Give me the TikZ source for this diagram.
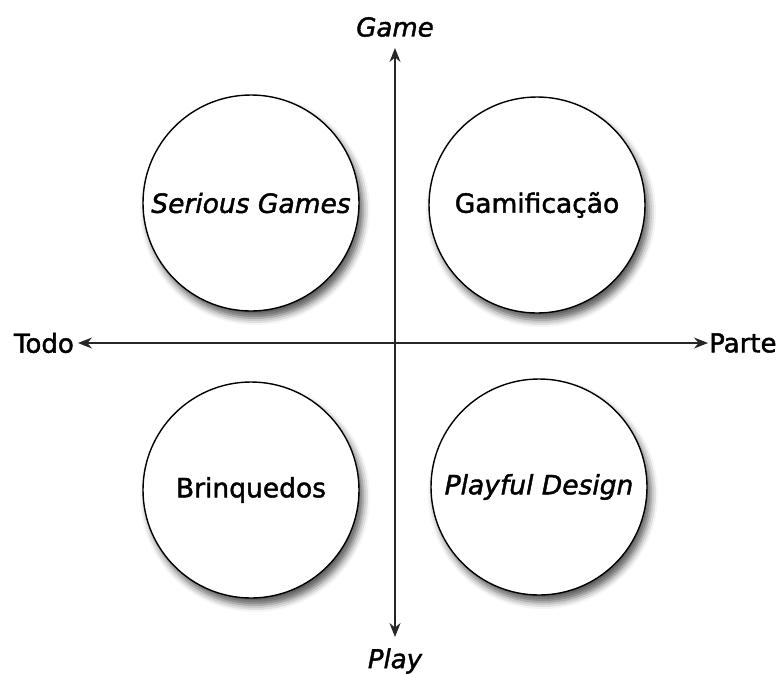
\documentclass[tikz,border=0pt]{standalone}
\usepackage{fontspec}
\setmainfont{DejaVu Sans}[FakeBold=1.6]
\usetikzlibrary{arrows.meta,shadows.blur}
\begin{document}
\begin{tikzpicture}[x=1pt,y=-1pt,
  quad/.style={circle,draw=black,line width=1.4pt,fill=white,minimum size=216pt,inner sep=0pt,
    font=\fontsize{26.5}{30}\selectfont,
    blur shadow={shadow xshift=4pt,shadow yshift=-7pt,shadow blur radius=7pt,shadow opacity=65}},
  axis/.style={draw=black!85,line width=1.2pt,{Stealth[length=14pt,width=11pt]}-{Stealth[length=14pt,width=11pt]}},
  axislabel/.style={font=\fontsize{26}{30}\selectfont,inner sep=0pt}]
\useasboundingbox (0,0) rectangle (781,673);
% four quadrants
\node[quad] (sg) at (251,203) {\itshape Serious Games};
\node[quad] (gm) at (537,205) {Gamificação};
\node[quad] (br) at (251,490) {Brinquedos};
\node[quad] (pd) at (539,487) {\itshape Playful Design};
% axis labels
\node[axislabel,anchor=east] (todo) at (74,343) {Todo};
\node[axislabel,anchor=west] (parte) at (709,343) {Parte};
\node[axislabel] (game) at (395,27) {\itshape Game};
\node[axislabel] (play) at (395,661) {\itshape Play};
% axis end points
\coordinate (top) at (395,48);
\coordinate (bottom) at (395,637);
\coordinate (left) at (78,343);
\coordinate (right) at (708,343);
% axes
\draw[axis] (left) -- (right);
\draw[axis] (top) -- (bottom);
\end{tikzpicture}
\end{document}
